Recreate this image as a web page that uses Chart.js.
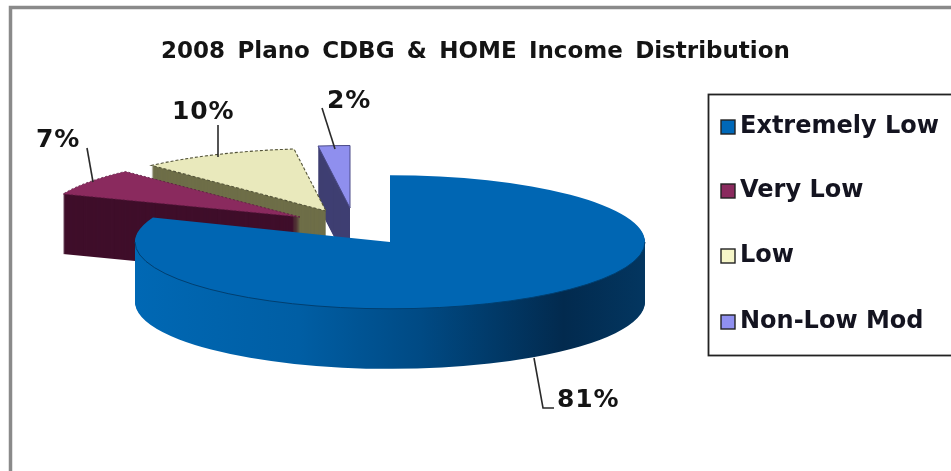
<!DOCTYPE html>
<html><head><meta charset="utf-8">
<style>html,body{margin:0;padding:0;background:#fff;overflow:hidden}canvas{display:block;filter:blur(0.5px)}</style>
<script src="https://cdn.jsdelivr.net/npm/chart.js@4/dist/chart.umd.min.js"></script>
</head><body><canvas id="c" width="951" height="471"></canvas>
<script>
const titleText = '2008 Plano CDBG & HOME Income Distribution';
const categories = ['Extremely Low', 'Very Low', 'Low', 'Non-Low Mod'];
const values = [81, 7, 10, 2];
const topColors = ['#0066b3', '#8a2a5e', '#e9e9bc', '#8f8fee'];
const wallColors = [null, '#3f0e2a', '#6e6e48', '#3f3f72'];
const swatchColors = ['#0068b8', '#8a2a5e', '#f6f6c8', '#9090f0'];

// 3-D projection of the pie: per-slice centre on the page and vertical squash
const RX = 255, DEPTH = 60;
const sliceCentres = [[390, 242, 0.262], [300, 217, 0.245], [326, 211, 0.245], [350, 208, 0.245]];
const drawOrder = [3, 2, 1, 0];
const labelPlaces = [[557, 400], [36, 140], [172, 112], [327, 101]];
const leaders = [[[534, 358], [543, 408], [554, 408]], [[87, 148], [93, 182]], [[218, 125], [218, 157]], [[322, 108], [335, 149]]];
const legendRows = [127, 191, 256, 322];

const pie3d = {
  id: 'pie3d',
  beforeDraw(chart) {
    const c = chart.ctx;
    c.save();
    c.fillStyle = '#fff'; c.fillRect(0, 0, 951, 471);
    c.strokeStyle = '#8a8a8a'; c.lineWidth = 3.5;
    c.strokeRect(10.5, 7.5, 2000, 2000);
    c.restore();
    c.wordSpacing = '4.3px';
  },
  beforeDatasetsDraw(chart) {
    const c = chart.ctx;
    c.wordSpacing = '0px';
    const arcs = chart.getDatasetMeta(0).data;
    const place = (arc, i, d) => {
      const [cx, cy, k] = sliceCentres[i];
      const s = RX / arc.outerRadius;
      c.translate(cx, cy + d);
      c.scale(s, s * k);
      c.translate(-arc.x, -arc.y);
    };
    const paint = (arc, i, d, fill) => {
      const o = arc.options;
      arc.options = Object.assign({}, o, { backgroundColor: fill, borderWidth: 0 });
      c.save(); place(arc, i, d); arc.draw(c); c.restore();
      arc.options = o;
    };
    const edge = (arc, i, a0, a1, radial, color, width, dash) => {
      c.save();
      place(arc, i, 0);
      c.beginPath();
      if (radial) c.moveTo(arc.x, arc.y);
      c.arc(arc.x, arc.y, arc.outerRadius, a0, a1);
      if (radial) c.closePath();
      c.restore();
      c.save();
      c.strokeStyle = color; c.lineWidth = width; c.setLineDash(dash || []);
      c.stroke();
      c.restore();
    };
    for (const i of drawOrder) {
      const arc = arcs[i];
      let wall = wallColors[i];
      if (!wall) {
        wall = c.createLinearGradient(arc.x - arc.outerRadius, 0, arc.x + arc.outerRadius, 0);
        wall.addColorStop(0, '#0068b4');
        wall.addColorStop(0.32, '#005ea4');
        wall.addColorStop(0.56, '#004a84');
        wall.addColorStop(0.84, '#022a4e');
        wall.addColorStop(1, '#033660');
      }
      for (let d = DEPTH; d >= 1; d--) paint(arc, i, d, wall);
      paint(arc, i, 0, topColors[i]);
      if (i === 0) edge(arc, i, 0, Math.PI, false, '#003f70', 1);
      if (i === 1) edge(arc, i, arc.startAngle, arc.endAngle, true, '#5a1a40', 0.8, [2, 2]);
      if (i === 2) edge(arc, i, arc.startAngle, arc.endAngle, true, '#55553a', 1.1, [3, 2]);
      if (i === 3) edge(arc, i, arc.startAngle, arc.endAngle, true, '#4a4a88', 1);
    }
    return false;
  },
  afterDraw(chart) {
    const c = chart.ctx;
    c.save();
    // leader lines
    c.strokeStyle = '#2a2a2a'; c.lineWidth = 1.6;
    leaders.forEach(pts => {
      c.beginPath();
      pts.forEach((p, j) => j ? c.lineTo(p[0], p[1]) : c.moveTo(p[0], p[1]));
      c.stroke();
    });
    // value labels
    c.fillStyle = '#141414';
    c.font = 'bold 25px "DejaVu Sans"';
    c.letterSpacing = '0.8px';
    c.textBaseline = 'middle'; c.textAlign = 'left';
    values.forEach((v, i) => c.fillText(v + '%', labelPlaces[i][0], labelPlaces[i][1]));
    c.letterSpacing = '0px';
    // legend
    c.strokeStyle = '#222'; c.lineWidth = 1.8;
    c.strokeRect(708.5, 94.5, 300, 261);
    c.font = 'bold 24px "DejaVu Sans"';
    categories.forEach((n, i) => {
      const y = legendRows[i];
      c.fillStyle = swatchColors[i];
      c.fillRect(721, y - 7, 14, 14);
      c.strokeStyle = '#222'; c.lineWidth = 1.4;
      c.strokeRect(721, y - 7, 14, 14);
      c.fillStyle = '#141420';
      c.fillText(n, 740, y);
    });
    c.restore();
  }
};

new Chart(document.getElementById('c'), {
  type: 'pie',
  data: {
    labels: categories,
    datasets: [{ data: values, backgroundColor: topColors, borderWidth: 0 }]
  },
  options: {
    responsive: false,
    animation: false,
    layout: { padding: 0 },
    plugins: {
      legend: { display: false },
      tooltip: { enabled: false },
      title: {
        display: true, text: titleText, color: '#141414',
        font: { family: '"DejaVu Sans"', weight: 'bold', size: 23 },
        padding: { top: 38, bottom: 10 }
      }
    }
  },
  plugins: [pie3d]
});
</script></body></html>
